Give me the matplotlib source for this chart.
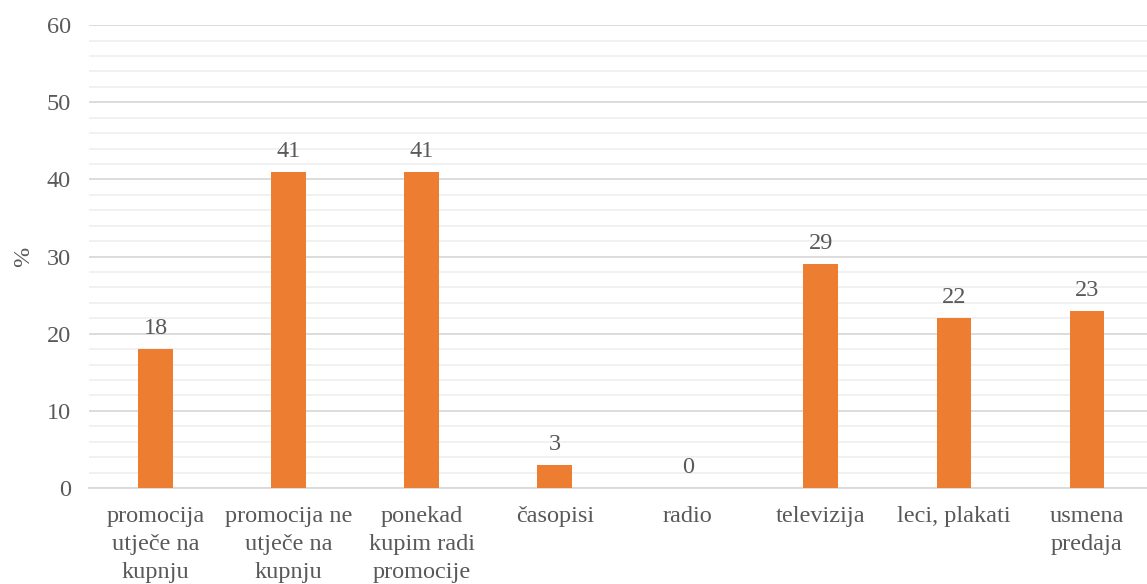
import numpy as np
import matplotlib.pyplot as plt
from matplotlib.ticker import MultipleLocator

# Chart data
categories = ['promocija\nutječe na\nkupnju', 'promocija ne\nutječe na\nkupnju',
              'ponekad\nkupim radi\npromocije', 'časopisi', 'radio',
              'televizija', 'leci, plakati', 'usmena\npredaja']
values = [18, 41, 41, 3, 0, 29, 22, 23]

plt.rcParams['font.family'] = ['Liberation Serif', 'DejaVu Serif']
text_color = '#595959'

fig = plt.figure(figsize=(11.47, 5.84), dpi=100)
ax = fig.add_axes([0.0776, 0.1644, 0.928, 0.7926])

x = np.arange(len(categories))
bars = ax.bar(x, values, width=0.26, color='#ED7D31', zorder=3)

for xi, v in zip(x, values):
    ax.text(xi, v + 1.3, str(v), ha='center', va='bottom', fontsize=17.5, color=text_color)

ax.set_xlim(-0.5, len(categories) - 0.5)
ax.set_ylim(0, 60)
ax.yaxis.set_major_locator(MultipleLocator(10))
ax.yaxis.set_minor_locator(MultipleLocator(2))
ax.grid(axis='y', which='major', color='#D9D9D9', linewidth=1.3, zorder=0)
ax.grid(axis='y', which='minor', color='#F0F0F0', linewidth=1.3, zorder=0)

ax.set_xticks(x)
ax.set_xticklabels(categories, fontsize=17.5, color=text_color, linespacing=1.45)
ax.tick_params(axis='y', labelsize=17.5, labelcolor=text_color, length=0, pad=13)
ax.tick_params(axis='y', which='minor', length=0)
ax.tick_params(axis='x', length=0, pad=13)
ax.set_ylabel('%', fontsize=17.5, color=text_color, labelpad=9)

for s in ['top', 'right', 'left']:
    ax.spines[s].set_visible(False)
ax.spines['bottom'].set_color('#D9D9D9')
ax.spines['bottom'].set_linewidth(1.3)

fig.savefig('out.png', dpi=100)
